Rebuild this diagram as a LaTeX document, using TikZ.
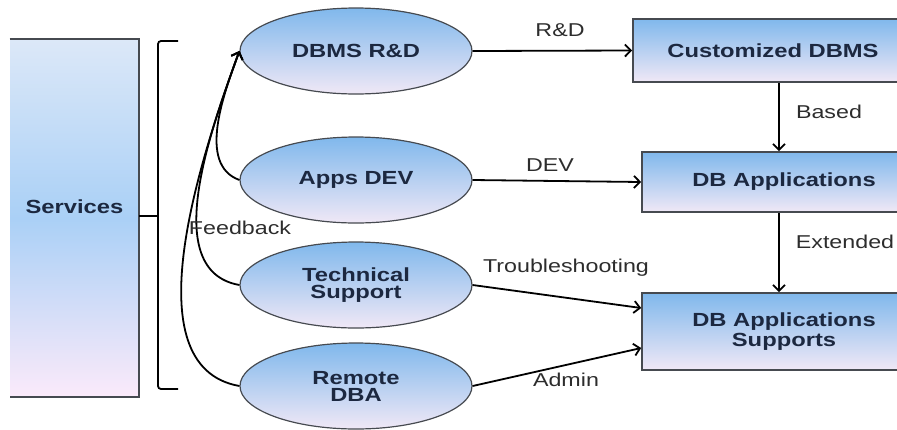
\documentclass[tikz,border=0pt]{standalone}
\usepackage{fontspec}
\newfontfamily\diafont[FakeStretch=1.25]{Liberation Sans}
\usetikzlibrary{shapes.geometric,arrows.meta}
\definecolor{navytext}{RGB}{28,40,64}
\definecolor{skyblue}{RGB}{128,184,236}
\definecolor{midblue}{RGB}{170,208,246}
\definecolor{paleblue}{RGB}{220,232,248}
\definecolor{lavender}{RGB}{240,232,246}
\definecolor{pinkish}{RGB}{251,234,250}
\definecolor{edgegray}{RGB}{70,74,80}
\definecolor{labelgray}{RGB}{45,45,45}

\tikzset{
  service/.style={ellipse, draw=edgegray, line width=0.6pt, top color=skyblue, bottom color=lavender,
    minimum width=116pt, minimum height=43pt, align=center, text=navytext,
    font=\diafont\bfseries\fontsize{9.5pt}{8.5pt}\selectfont},
  product/.style={rectangle, draw=edgegray, line width=0.8pt, top color=skyblue, bottom color=lavender,
    align=center, text=navytext, font=\diafont\bfseries\fontsize{9.5pt}{8.5pt}\selectfont},
  flow/.style={draw=black, line width=0.9pt, -{Straight Barb[length=3pt,width=6pt]}},
  flowlabel/.style={text=labelgray, font=\diafont\fontsize{9.3pt}{10pt}\selectfont}
}

\begin{document}
\begin{tikzpicture}[x=0.5pt,y=-0.5pt]
  \useasboundingbox (0,0) rectangle (897,429);

  % services block and bracket
  \node[top color=paleblue, bottom color=pinkish, middle color=midblue, minimum width=64.5pt, minimum height=179pt] (svc) at (74.5,218) {};
  \node[text=navytext, font=\diafont\bfseries\fontsize{9.5pt}{8.5pt}\selectfont] (svctext) at (74.5,207) {Services};
  \draw[edgegray, line width=1pt] (svc.north west) -- (svc.north east) -- (svc.south east) -- (svc.south west);
  \coordinate (bracetop) at (178,41);
  \coordinate (bracemid) at (158,216);
  \coordinate (bracebot) at (178,389);
  \draw[line width=0.9pt, rounded corners=1.5pt] (bracetop) -| (bracemid) |- (bracebot);
  \draw[line width=0.9pt] (svc.east |- bracemid) -- (bracemid);

  % the four services
  \node[service] (dbms) at (356,51) {DBMS R\&D};
  \node[service] (apps) at (356,180) {Apps DEV};
  \node[service] (tech) at (356,285) {Technical\\Support};
  \node[service] (dba) at (356,386) {Remote\\DBA};

  % results (right edges run off the page)
  \node[product, minimum width=140pt, minimum height=31.5pt] (custom) at (773,50.5) {Customized DBMS};
  \node[product, minimum width=142pt, minimum height=30pt] (dbapp) at (784,182) {DB Applications};
  \node[product, minimum width=142pt, minimum height=38.5pt] (support) at (784,331.5) {DB Applications\\Supports};

  % flows
  \draw[flow] (dbms.east) -- (custom.west);
  \draw[flow] (apps.east) -- (dbapp.west);
  \draw[flow] (tech.east) -- (support.west |- 0,308);
  \draw[flow] (dba.east) -- (support.west |- 0,348);
  \draw[flow] (custom.south -| 779,0) -- (dbapp.north -| 779,0);
  \draw[flow] (dbapp.south -| 779,0) -- (support.north -| 779,0);

  % feedback
  \draw[flow] (apps.west) to[out=160, in=250, looseness=0.9] (dbms.west);
  \draw[flow] (tech.west) to[out=170, in=250, looseness=0.9] (dbms.west);
  \draw[flow] (dba.west) to[out=170, in=250, looseness=0.85] (dbms.west);

  % labels
  \node[flowlabel] (lrd) at (560,30) {R\&D};
  \node[flowlabel] (ldev) at (550,165) {DEV};
  \node[flowlabel] (ltrouble) at (566,268) {Troubleshooting};
  \node[flowlabel] (ladmin) at (566,380) {Admin};
  \node[flowlabel] (lbased) at (829,112) {Based};
  \node[flowlabel] (lext) at (845,242) {Extended};
  \node[flowlabel] (lfeed) at (240,228) {Feedback};
\end{tikzpicture}
\end{document}
